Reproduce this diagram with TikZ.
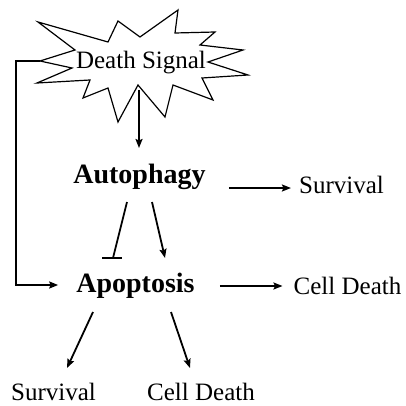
\documentclass[tikz,border=0pt]{standalone}
\usepackage{fontspec}
\setmainfont{Liberation Serif}
\usetikzlibrary{arrows.meta,calc}
\begin{document}
\begin{tikzpicture}[x=1pt,y=-1pt,
  conn/.style={line width=1.8pt},
  arr/.style={conn,-{Stealth[length=9pt,width=7pt,inset=1.5pt]}},
  reg/.style={inner sep=0pt,anchor=base,font=\fontsize{25}{30}\selectfont},
  bld/.style={inner sep=0pt,anchor=base,font=\fontsize{28}{32}\selectfont\bfseries},
  burst/.style={draw,line width=1.2pt,fill=white,line join=miter}]
\useasboundingbox (0,0) rectangle (406,406);
% starburst
\draw[burst] (38,22) -- (108,42) -- (118,21) -- (140,37) -- (178,10) -- (175,33)
  -- (215,32) -- (200,45) -- (243,50) -- (208,62) -- (248,75) -- (202,78)
  -- (213,100) -- (173,85) -- (165,117) -- (138,85) -- (118,122) -- (108,88)
  -- (83,98) -- (90,80) -- (37,83) -- (72,68) -- (40,61) -- (75,50) -- cycle;
\coordinate (ltip) at (40,61);
\coordinate (dsb) at (139,90);
\node[reg] (ds) at (141,69) {Death Signal};
% nodes
\node[bld] (auto) at (139.5,183) {Autophagy};
\node[reg] (s1) at (341.5,193) {Survival};
\node[bld] (apo) at (135.5,292) {Apoptosis};
\node[reg] (cd1) at (347.5,294) {Cell Death};
\node[reg] (s2) at (53.5,400) {Survival};
\node[reg] (cd2) at (201,400) {Cell Death};
% connectors
\draw[arr] (dsb) -- ($(auto.base)+(-0.5,-35)$);
\draw[arr] ($(auto.base east)+(23,5)$) -- ($(s1.base west)+(-8,-5)$);
\draw[arr] ($(apo.base east)+(25,-6)$) -- ($(cd1.base west)+(-11,-8)$);
\draw[arr] (ltip) -- ++(-24,0) |- ($(apo.base west)+(-18,-7)$);
\draw[conn] ($(auto.base)+(-12.5,19)$) -- ($(apo.base)+(-22.5,-34)$);
\draw[conn] ($(apo.base)+(-33.5,-34)$) -- ($(apo.base)+(-13.5,-34)$);
\draw[arr] ($(auto.base)+(12.5,19)$) -- ($(apo.base)+(29.5,-34)$);
\draw[arr] ($(apo.base)+(-42.5,20)$) -- ($(s2.base)+(13.5,-32)$);
\draw[arr] ($(apo.base)+(35.5,20)$) -- ($(cd2.base)+(-11,-32)$);
\end{tikzpicture}
\end{document}
